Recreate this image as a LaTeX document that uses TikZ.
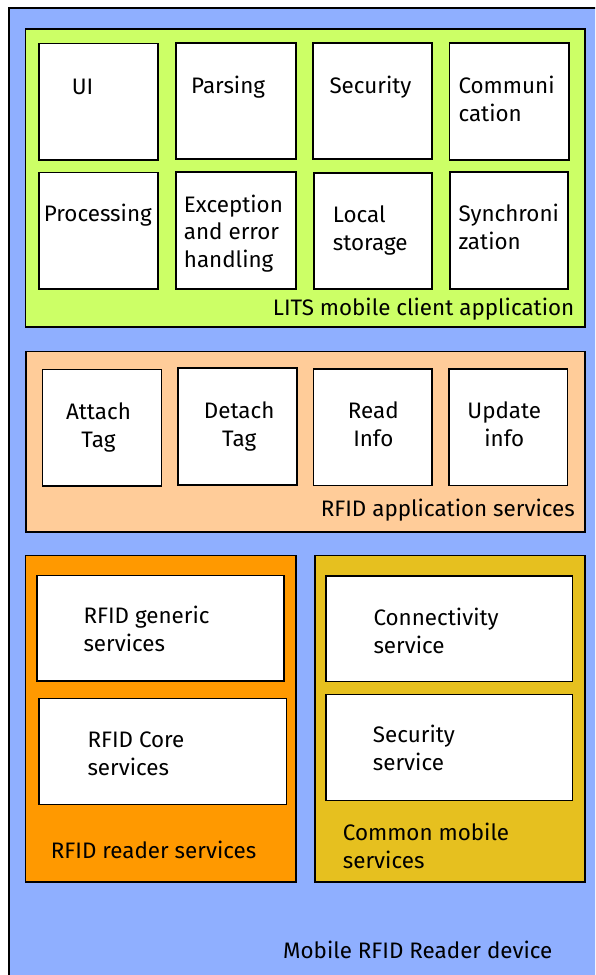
\documentclass[tikz,border=0pt]{standalone}
\usepackage{fontspec}
\setmainfont{Fira Sans}
\definecolor{devblue}{HTML}{8FAFFF}
\definecolor{litsgreen}{HTML}{CCFF66}
\definecolor{apppeach}{HTML}{FFCC99}
\definecolor{readerorange}{HTML}{FF9900}
\definecolor{commongold}{HTML}{E6C01F}
\begin{document}
\begin{tikzpicture}[x=1pt,y=-1pt,
  panel/.style={draw=black, line width=1.5pt, rectangle, anchor=north west, inner sep=0pt},
  module/.style={panel, fill=white},
  txt/.style={inner sep=0pt, anchor=base west, align=left, font=\fontsize{22.4}{27.8}\selectfont},
  ctxt/.style={inner sep=0pt, anchor=base, align=center, font=\fontsize{22.4}{27.8}\selectfont},
  rtxt/.style={inner sep=0pt, anchor=base east, font=\fontsize{22.4}{27.8}\selectfont}]
\useasboundingbox (0,0) rectangle (595,975);
\fill[white] (0,0) rectangle (595,975);
\clip (0,0) rectangle (595,975);
% device
\node[panel, fill=devblue, minimum width=600pt, minimum height=980pt] (dev) at (8,7) {};
% LITS mobile client application
\node[panel, fill=litsgreen, minimum width=559.5pt, minimum height=298pt] (lits) at (24.5,28) {};
\node[module, minimum width=119pt, minimum height=116.5pt] (ui) at (38,42.5) {};
\node[module, minimum width=120pt, minimum height=116pt] (parsing) at (175,42) {};
\node[module, minimum width=119pt, minimum height=116pt] (security) at (312,42) {};
\node[module, minimum width=119.5pt, minimum height=117pt] (comm) at (448.5,42) {};
\node[module, minimum width=119pt, minimum height=116.5pt] (proc) at (38,171.5) {};
\node[module, minimum width=120pt, minimum height=117pt] (exc) at (175,171) {};
\node[module, minimum width=118pt, minimum height=116pt] (local) at (313,172) {};
\node[module, minimum width=118pt, minimum height=117pt] (sync) at (449,171) {};
\node[txt] (uit) at (71.7,94) {UI};
\node[txt] (parsingt) at (191,93.5) {Parsing};
\node[txt] (securityt) at (329.3,93.5) {Security};
\node[txt] (commt) at (458.3,121.7) {Communi\\cation};
\node[txt] (proct) at (43.7,221.7) {Processing};
\node[txt] (exct) at (183.7,267.7) {Exception\\and error\\handling};
\node[txt] (localt) at (332.7,250) {Local\\storage};
\node[txt] (synct) at (458.3,249.3) {Synchroni\\zation};
\node[rtxt] (litst) at (574.5,315) {LITS mobile client application};
% RFID application services
\node[panel, fill=apppeach, minimum width=559pt, minimum height=180.5pt] (app) at (25,350.5) {};
\node[module, minimum width=119pt, minimum height=116.5pt] (attach) at (41.5,368.5) {};
\node[module, minimum width=119pt, minimum height=117pt] (detach) at (177,367) {};
\node[module, minimum width=118.5pt, minimum height=116.5pt] (read) at (312.5,368) {};
\node[module, minimum width=118.5pt, minimum height=116.5pt] (update) at (448,368) {};
\node[ctxt] (attacht) at (98.5,447.5) {Attach\\Tag};
\node[ctxt] (detacht) at (239.2,446) {Detach\\Tag};
\node[ctxt] (readt) at (373.3,446.5) {Read\\Info};
\node[ctxt] (updatet) at (504.3,446) {Update\\info};
\node[rtxt] (appt) at (575,516) {RFID application services};
% RFID reader services
\node[panel, fill=readerorange, minimum width=270.5pt, minimum height=326.5pt] (reader) at (24.5,554.5) {};
\node[module, minimum width=247pt, minimum height=105.5pt] (generic) at (36,574.5) {};
\node[module, minimum width=247.5pt, minimum height=106pt] (core) at (38,697.5) {};
\node[txt] (generict) at (83.3,651.7) {RFID generic\\services};
\node[txt] (coret) at (87.3,775) {RFID Core\\services};
\node[txt] (readert) at (50.7,858.3) {RFID reader services};
% Common mobile services
\node[panel, fill=commongold, minimum width=270pt, minimum height=326.5pt] (common) at (314,554.5) {};
\node[module, minimum width=246.5pt, minimum height=105.5pt] (conn) at (325,575) {};
\node[module, minimum width=246.5pt, minimum height=106pt] (secsvc) at (325,693.5) {};
\node[txt] (connt) at (373.3,653.3) {Connectivity\\service};
\node[txt] (secsvct) at (372.7,770.7) {Security\\service};
\node[txt] (commont) at (342.7,868.3) {Common mobile\\services};
% device label
\node[txt] (devt) at (283,958.3) {Mobile RFID Reader device};
\end{tikzpicture}
\end{document}
